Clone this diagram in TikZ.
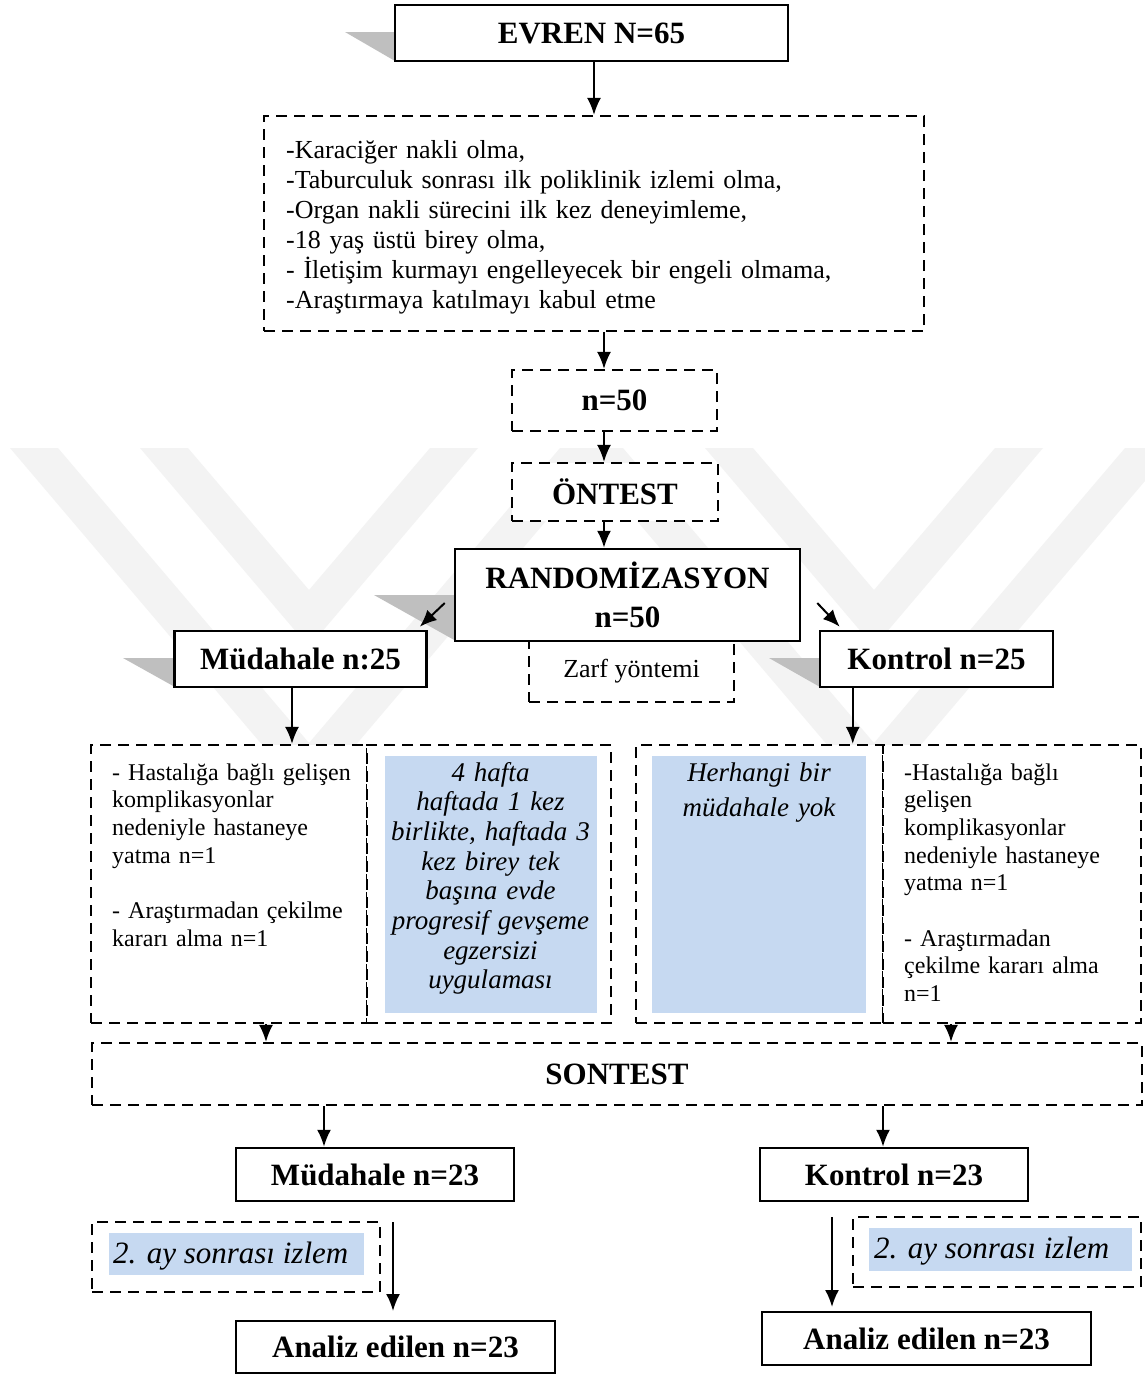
\documentclass[tikz,border=0pt]{standalone}
\usepackage{fontspec}
\setmainfont{Liberation Serif}
\usetikzlibrary{arrows.meta}
\definecolor{bluefill}{HTML}{C6D9F1}
\definecolor{shadegray}{HTML}{BFBFBF}
\definecolor{wmgray}{HTML}{F3F3F3}
\newcommand\myhead{\fontsize{31}{39}\selectfont\bfseries}
\newcommand\mycrit{\fontsize{26}{30}\selectfont}
\newcommand\mysmall{\fontsize{24}{27.7}\selectfont}
\newcommand\myital{\fontsize{27}{29.7}\selectfont\itshape}
\tikzset{
 sbox/.style={draw, line width=2.5pt, fill=white, inner sep=0pt, font=\myhead},
 dbox/.style={draw, line width=2.2pt, dash pattern=on 11pt off 7pt, fill=white, inner sep=0pt},
 bluebox/.style={fill=bluefill, inner sep=0pt},
 arr/.style={line width=2pt, -{Latex[length=17pt,width=14pt]}},
 wm/.style={fill=wmgray},
 shade/.style={fill=shadegray},
 txt/.style={inner sep=0pt},
}
\begin{document}
\begin{tikzpicture}[x=1pt,y=-1pt]
\useasboundingbox (0,0) rectangle (1144,1374);
\fill[white] (0,0) rectangle (1144,1374);
% watermark chevrons
\fill[wm] (10,448) -- (58,448) -- (309,743) -- (560,448) -- (608,448) -- (309,800) -- cycle;
\fill[wm] (140,448) -- (188,448) -- (309,590) -- (430,448) -- (478,448) -- (309,647) -- cycle;
\fill[wm] (575,448) -- (623,448) -- (874,743) -- (1125,448) -- (1173,448) -- (874,800) -- cycle;
\fill[wm] (705,448) -- (753,448) -- (874,590) -- (995,448) -- (1043,448) -- (874,647) -- cycle;
% gray triangles
\fill[shade] (345,32) -- (395,32) -- (395,61) -- cycle;
\fill[shade] (374,595) -- (456,595) -- (456,641) -- cycle;
\fill[shade] (123,658) -- (175,658) -- (175,687) -- cycle;
\fill[shade] (769,658) -- (820,658) -- (820,687) -- cycle;
% top
\node[sbox, minimum width=393, minimum height=56] (evren) at (591.5,33) {EVREN N=65};
\node[dbox, minimum width=660, minimum height=215] (crit) at (594,223.5) {};
\node[txt, anchor=base west, text width=630, align=left, font=\mycrit] (crittext) at (286,158)
 {-Karaciğer nakli olma,\\-Taburculuk sonrası ilk poliklinik izlemi olma,\\-Organ nakli sürecini ilk kez deneyimleme,\\-18 yaş üstü birey olma,\\- İletişim kurmayı engelleyecek bir engeli olmama,\\-Araştırmaya katılmayı kabul etme};
\node[dbox, minimum width=205, minimum height=61, font=\myhead] (n50) at (614.5,400.5) {n=50};
\node[dbox, minimum width=206, minimum height=58, font=\myhead] (ontest) at (615,492) {ÖNTEST};
\node[dbox, minimum width=205, minimum height=61, font=\mycrit] (zarf) at (631.5,671.5) {Zarf yöntemi};
\node[sbox, minimum width=345, minimum height=92, align=center] (random) at (627.5,595) {RANDOMİZASYON\\n=50};
\node[sbox, minimum width=252, minimum height=56] (mud) at (300.5,659) {Müdahale n:25};
\node[sbox, minimum width=233, minimum height=56] (kontrol) at (936.5,659) {Kontrol n=25};
% row of boxes
\node[dbox, minimum width=276, minimum height=278] (r1) at (229,884) {};
\node[dbox, minimum width=244, minimum height=278] (r2) at (489,884) {};
\node[dbox, minimum width=247, minimum height=278] (r3) at (759.5,884) {};
\node[dbox, minimum width=258, minimum height=278] (r4) at (1012,884) {};
\node[bluebox, minimum width=212, minimum height=257] (blue1) at (490.5,884.5) {};
\node[bluebox, minimum width=214, minimum height=257] (blue2) at (759,884.5) {};
\node[txt, anchor=base west, text width=250, align=left, font=\mysmall] (t1) at (112,780)
 {- Hastalığa bağlı gelişen\\komplikasyonlar\\nedeniyle hastaneye\\yatma n=1\\[27.7pt]- Araştırmadan çekilme\\kararı alma n=1};
\node[txt, anchor=base, text width=212, align=center, font=\myital] (t2) at (490.5,781)
 {4 hafta\\haftada 1 kez\\birlikte, haftada 3\\kez birey tek\\başına evde\\progresif gevşeme\\egzersizi\\uygulaması};
\node[txt, anchor=base, text width=214, align=center, font={\fontsize{27}{35}\selectfont\itshape}] (t3) at (759,781)
 {Herhangi bir\\müdahale yok};
\node[txt, anchor=base west, text width=235, align=left, font=\mysmall] (t4) at (904,780)
 {-Hastalığa bağlı\\gelişen\\komplikasyonlar\\nedeniyle hastaneye\\yatma n=1\\[27.7pt]- Araştırmadan\\çekilme kararı alma\\n=1};
% sontest and below
\node[dbox, minimum width=1050, minimum height=62, font=\myhead] (sontest) at (617,1074) {SONTEST};
\node[sbox, minimum width=278, minimum height=53] (mud23) at (375,1174.5) {Müdahale n=23};
\node[sbox, minimum width=268, minimum height=53] (kon23) at (894,1174.5) {Kontrol n=23};
\node[dbox, minimum width=288, minimum height=70] (lizlem) at (236,1257) {};
\node[bluebox, minimum width=255, minimum height=42] (lblue) at (236.5,1254) {};
\node[txt, anchor=base west, font={\fontsize{31}{36}\selectfont\itshape}] (ltext) at (113,1263) {2. ay sonrası izlem};
\node[dbox, minimum width=288, minimum height=70] (rizlem) at (997,1252) {};
\node[bluebox, minimum width=263, minimum height=43] (rblue) at (1000.5,1249.5) {};
\node[txt, anchor=base west, font={\fontsize{31}{36}\selectfont\itshape}] (rtext) at (874,1258) {2. ay sonrası izlem};
\node[sbox, minimum width=319, minimum height=52] (anl) at (395.5,1347) {Analiz edilen n=23};
\node[sbox, minimum width=329, minimum height=53] (anr) at (926.5,1338.5) {Analiz edilen n=23};
\coordinate (la1) at (393,1222);
\coordinate (la2) at (393,1311);
\coordinate (ra1) at (832,1217);
\coordinate (ra2) at (832,1307);
% arrows
\draw[arr] (crit.north |- evren.south) -- (crit.north);
\draw[arr] ([xshift=10pt]crit.south) -- ([xshift=10pt]crit.south |- n50.north);
\draw[arr] ([xshift=-10.5pt]n50.south) -- ([xshift=-10.5pt]n50.south |- ontest.north);
\draw[arr] ([xshift=-11pt]ontest.south) -- ([xshift=-11pt]ontest.south |- random.north);
\draw[arr] ([xshift=-9pt,yshift=-8pt]random.west) -- ([xshift=-8pt,yshift=3pt]mud.north east);
\draw[arr] ([xshift=16pt,yshift=-8pt]random.east) -- ([xshift=21pt,yshift=3pt]kontrol.north west);
\draw[arr] ([xshift=-8.5pt]mud.south) -- ([xshift=-8.5pt]mud.south |- r1.north);
\draw[arr] ([xshift=34pt]kontrol.south west) -- ([xshift=34pt]kontrol.south west |- r3.north);
\draw[arr] ([xshift=37pt]r1.south) -- ([xshift=37pt]r1.south |- sontest.north);
\draw[arr] ([xshift=-61pt]r4.south) -- ([xshift=-61pt]r4.south |- sontest.north);
\draw[arr] ([xshift=-51pt]mud23.north |- sontest.south) -- ([xshift=-51pt]mud23.north);
\draw[arr] ([xshift=-11pt]kon23.north |- sontest.south) -- ([xshift=-11pt]kon23.north);
\draw[arr] (la1) -- (la2);
\draw[arr] (ra1) -- (ra2);
\end{tikzpicture}
\end{document}
